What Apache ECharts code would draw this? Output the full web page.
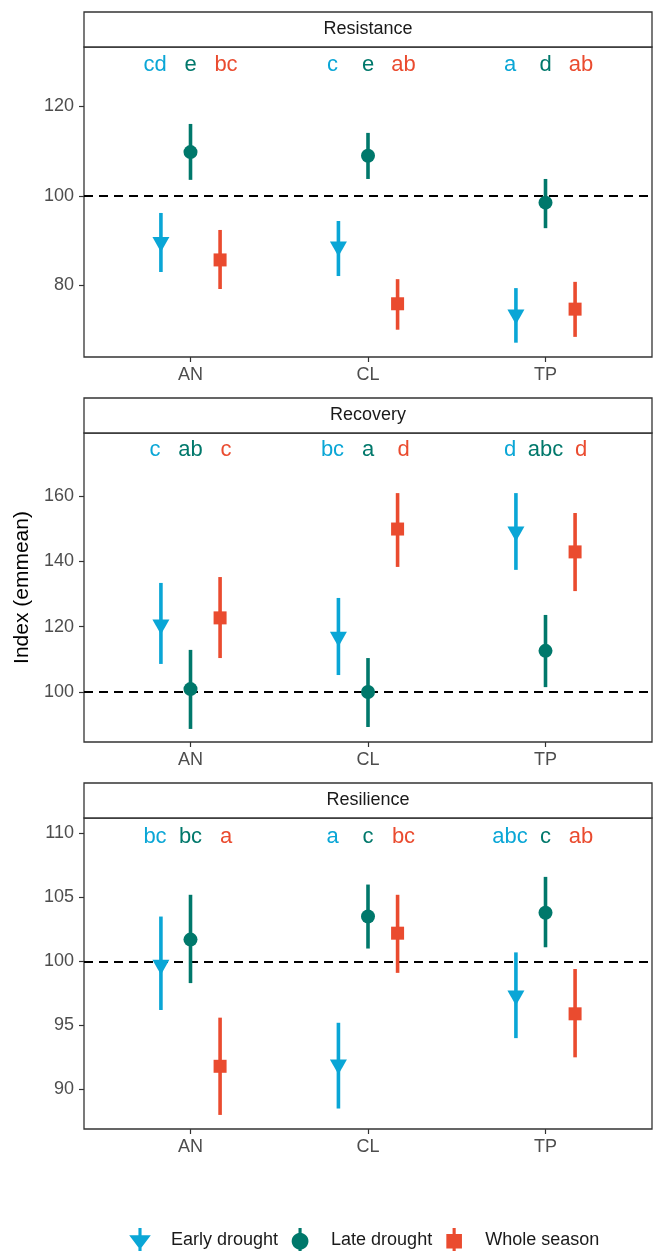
<!DOCTYPE html>
<html>
<head>
<meta charset="utf-8">
<script src="https://cdn.jsdelivr.net/npm/echarts@6/dist/echarts.min.js"></script>
<style>html,body{margin:0;padding:0;background:#fff;}#c{width:657px;height:1251px;}</style>
</head>
<body>
<div id="c"></div>
<script>
// ---------- data ----------
const categories = ['AN', 'CL', 'TP'];
const treatments = ['Early drought', 'Late drought', 'Whole season'];
const panels = ['Resistance', 'Recovery', 'Resilience'];

// rows: Early drought, Late drought, Whole season ; columns: AN, CL, TP
const resistanceMean  = [[89.6, 88.6, 73.4], [109.8, 109.0, 98.5], [85.7, 75.9, 74.7]];
const resistanceLower = [[83.0, 82.1, 67.2], [103.6, 103.8, 92.8], [79.2, 70.1, 68.5]];
const resistanceUpper = [[96.2, 94.4, 79.4], [116.1, 114.1, 103.8], [92.4, 81.4, 80.8]];
const resistanceLetters = [['cd', 'c', 'a'], ['e', 'e', 'd'], ['bc', 'ab', 'ab']];

const recoveryMean  = [[120.5, 116.8, 149.0], [100.9, 100.0, 112.6], [122.7, 149.9, 142.9]];
const recoveryLower = [[108.6, 105.2, 137.4], [88.7, 89.3, 101.5], [110.4, 138.3, 130.9]];
const recoveryUpper = [[133.4, 128.8, 160.9], [112.9, 110.4, 123.6], [135.2, 160.9, 154.8]];
const recoveryLetters = [['c', 'bc', 'd'], ['ab', 'a', 'abc'], ['c', 'd', 'd']];

const resilienceMean  = [[99.7, 91.9, 97.3], [101.7, 103.5, 103.8], [91.8, 102.2, 95.9]];
const resilienceLower = [[96.2, 88.5, 94.0], [98.3, 101.0, 101.1], [88.0, 99.1, 92.5]];
const resilienceUpper = [[103.5, 95.2, 100.7], [105.2, 106.0, 106.6], [95.6, 105.2, 99.4]];
const resilienceLetters = [['bc', 'a', 'abc'], ['bc', 'c', 'c'], ['a', 'bc', 'ab']];

const yMin = [64.0, 84.7, 86.9];
const yMax = [133.3, 179.3, 111.2];
const yTicks = [[80, 100, 120], [100, 120, 140, 160], [90, 95, 100, 105, 110]];
const letterY = [129.3, 174.2, 109.75];
const refValue = 100;

// ---------- styling ----------
const colors = ['#0AA6D6', '#00786B', '#EA4B2F'];
const pointOffset = [-1 / 6, 0, 1 / 6];
const letterOffset = [-0.2, 0, 0.2];
const grids = [
  { left: 84, top: 47, width: 568, height: 310 },
  { left: 84, top: 433, width: 568, height: 309 },
  { left: 84, top: 818, width: 568, height: 311 }
];
const stripH = 35;
const FONT = '"Liberation Sans", Arial, sans-serif';

const means = [resistanceMean, recoveryMean, resilienceMean];
const lowers = [resistanceLower, recoveryLower, resilienceLower];
const uppers = [resistanceUpper, recoveryUpper, resilienceUpper];
const letters = [resistanceLetters, recoveryLetters, resilienceLetters];

const symbols = [
  { symbol: 'triangle', symbolSize: [17, 15], symbolRotate: 180, symbolOffset: [0, 2] },
  { symbol: 'circle', symbolSize: 14, symbolRotate: 0, symbolOffset: [0, 0] },
  { symbol: 'rect', symbolSize: 13, symbolRotate: 0, symbolOffset: [0, 0] }
];

// legend glyphs: vertical bar with marker; every path spans a full 20 x 20 box
function circleIconPath() {
  const cx = 10, cy = 11, r = 7, n = 28;
  const pts = [];
  for (let k = 0; k <= n; k++) {
    const a = -Math.PI / 2 + (2 * Math.PI * k) / n;
    pts.push((cx + r * Math.cos(a)).toFixed(2) + ',' + (cy + r * Math.sin(a)).toFixed(2));
  }
  return 'path://M0,0 L0.01,0 Z M20,20 L19.99,20 Z M' + pts.join(' L') + ' Z M8.7,0 H11.3 V20 H8.7 Z';
}
const legendIcons = [
  'path://M0,0 L0.01,0 Z M20,20 L19.99,20 Z M8.7,0 H11.3 V6 H19 L11.3,16.2 V20 H8.7 V16.2 L1,6 H8.7 Z',
  circleIconPath(),
  'path://M0,0 L0.01,0 Z M20,20 L19.99,20 Z M8.7,0 H11.3 V5 H16.5 V17 H11.3 V20 H8.7 V17 H3.5 V5 H8.7 Z'
];

const xAxes = [], yAxes = [], series = [], graphics = [];

panels.forEach((pName, p) => {
  xAxes.push({
    type: 'value', gridIndex: p, min: 0.4, max: 3.6,
    axisLine: { show: false },
    splitLine: { show: false },
    axisTick: { show: true, length: 5, customValues: [1, 2, 3], lineStyle: { color: '#333', width: 1.2 } },
    axisLabel: {
      show: true, customValues: [1, 2, 3], margin: 9,
      formatter: v => categories[Math.round(v) - 1] || '',
      color: '#4D4D4D', fontSize: 18, fontFamily: FONT
    }
  });
  yAxes.push({
    type: 'value', gridIndex: p, min: yMin[p], max: yMax[p],
    axisLine: { show: false },
    splitLine: { show: false },
    axisTick: { show: true, length: 5, customValues: yTicks[p], lineStyle: { color: '#333', width: 1.2 } },
    axisLabel: { show: true, customValues: yTicks[p], margin: 10, color: '#4D4D4D', fontSize: 18, fontFamily: FONT },
    name: p === 1 ? 'Index (emmean)' : '',
    nameLocation: 'middle', nameGap: 48, nameRotate: 90,
    nameTextStyle: { fontSize: 21, color: '#000', fontFamily: FONT }
  });

  // strip
  const g = grids[p];
  graphics.push({
    type: 'rect', shape: { x: g.left, y: g.top - stripH, width: g.width, height: stripH },
    style: { fill: '#fff', stroke: '#333', lineWidth: 1.3 }, z: 10
  });
  graphics.push({
    type: 'text', x: g.left + g.width / 2, y: g.top - stripH / 2,
    style: { text: pName, fill: '#1A1A1A', font: '18px ' + FONT, textAlign: 'center', textVerticalAlign: 'middle' }, z: 11
  });

  treatments.forEach((tName, t) => {
    const col = colors[t];
    // error bars
    series.push({
      type: 'custom', xAxisIndex: p, yAxisIndex: p, name: tName + ' CI',
      data: categories.map((c, i) => [i + 1 + pointOffset[t], lowers[p][t][i], uppers[p][t][i]]),
      encode: { x: 0, y: [1, 2] },
      renderItem: (params, api) => {
        const a = api.coord([api.value(0), api.value(1)]);
        const b = api.coord([api.value(0), api.value(2)]);
        return { type: 'line', shape: { x1: a[0], y1: a[1], x2: b[0], y2: b[1] }, style: { stroke: col, lineWidth: 3.6 } };
      },
      z: 3, silent: true,
      markLine: t === 0 ? {
        silent: true, symbol: 'none', label: { show: false },
        lineStyle: { color: '#000', type: [9, 6], width: 2, opacity: 1 },
        data: [{ yAxis: refValue }], z: 2
      } : undefined
    });
    // points
    series.push({
      type: 'scatter', xAxisIndex: p, yAxisIndex: p, name: tName,
      data: categories.map((c, i) => [i + 1 + pointOffset[t], means[p][t][i]]),
      symbol: symbols[t].symbol, symbolSize: symbols[t].symbolSize,
      symbolRotate: symbols[t].symbolRotate, symbolOffset: symbols[t].symbolOffset,
      itemStyle: { color: col, opacity: 1 }, z: 5, silent: true
    });
    // letters
    series.push({
      type: 'scatter', xAxisIndex: p, yAxisIndex: p, name: tName + ' letters',
      data: categories.map((c, i) => [i + 1 + letterOffset[t], letterY[p], letters[p][t][i]]),
      symbolSize: 0, silent: true,
      itemStyle: { color: col, opacity: 1 },
      label: {
        show: true, position: 'inside', formatter: d => d.value[2],
        color: col, opacity: 1, fontSize: 22, fontFamily: FONT
      },
      z: 6
    });
  });
});

const chart = echarts.init(document.getElementById('c'), null, { renderer: 'canvas' });
chart.setOption({
  animation: false,
  backgroundColor: '#fff',
  grid: grids.map(g => Object.assign({ show: true, borderColor: '#333', borderWidth: 1.3, backgroundColor: 'transparent' }, g)),
  xAxis: xAxes,
  yAxis: yAxes,
  legend: {
    left: 123, top: 1223, orient: 'horizontal',
    itemWidth: 24, itemHeight: 25, itemGap: 10,
    symbolRotate: 0, symbolKeepAspect: true,
    selectedMode: false,
    textStyle: { fontSize: 18, color: '#1A1A1A', fontFamily: FONT, padding: [0, 0, 0, 14] },
    data: treatments.map((t, i) => ({ name: t, icon: legendIcons[i], symbolRotate: 0, symbolKeepAspect: true, itemStyle: { color: colors[i], opacity: 1 } }))
  },
  graphic: graphics,
  series: series
});
</script>
</body>
</html>
